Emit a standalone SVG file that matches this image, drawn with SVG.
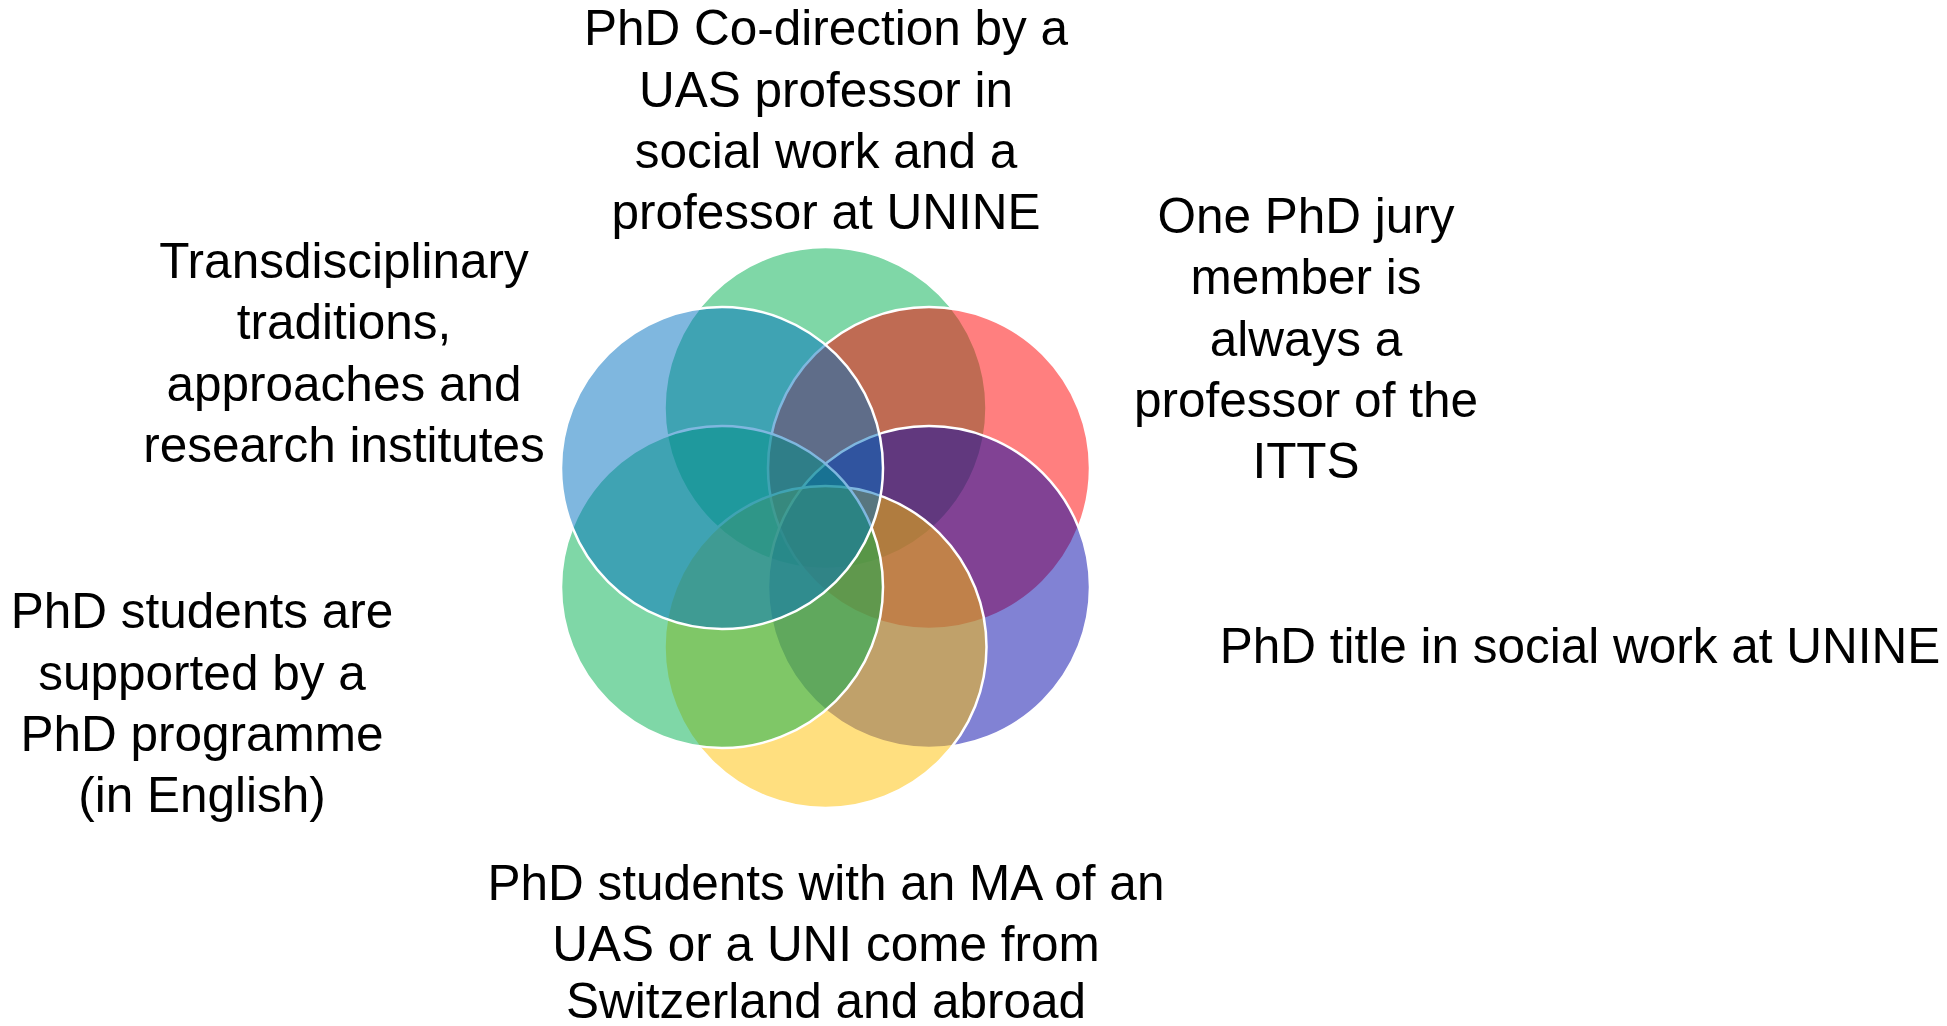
<svg xmlns="http://www.w3.org/2000/svg" width="1947" height="1026" viewBox="0 0 1947 1026">
<style>
.c{fill-opacity:0.5;stroke:#ffffff;stroke-width:2.5}
.t{font-family:"Liberation Sans",Arial,sans-serif;font-size:49.5px;fill:#000000;text-anchor:middle}
</style>
<rect width="1947" height="1026" fill="#ffffff"/>
<g id="circles">
<g id="c-top"><circle class="c" cx="825.5" cy="408" r="161" fill="#00B050"/></g>
<g id="c-upper-right"><circle class="c" cx="929" cy="468" r="161" fill="#FF0000"/></g>
<g id="c-lower-right"><circle class="c" cx="929" cy="587" r="161" fill="#0305AA"/></g>
<g id="c-bottom"><circle class="c" cx="825.5" cy="647" r="161" fill="#FFC000"/></g>
<g id="c-lower-left"><circle class="c" cx="722" cy="587" r="161" fill="#00B050"/></g>
<g id="c-upper-left"><circle class="c" cx="722" cy="468" r="161" fill="#0070C0"/></g>
</g>
<g id="label-top"><text class="t"><tspan x="826" y="45">PhD Co-direction by a</tspan><tspan x="826" y="107">UAS professor in</tspan><tspan x="826" y="168">social work and a</tspan><tspan x="826" y="229">professor at UNINE</tspan></text></g>
<g id="label-upper-right"><text class="t"><tspan x="1306" y="233">One PhD jury</tspan><tspan x="1306" y="294">member is</tspan><tspan x="1306" y="356">always a</tspan><tspan x="1306" y="417">professor of the</tspan><tspan x="1306" y="478">ITTS</tspan></text></g>
<g id="label-lower-right"><text class="t"><tspan x="1580" y="663">PhD title in social work at UNINE</tspan></text></g>
<g id="label-bottom"><text class="t"><tspan x="826" y="900">PhD students with an MA of an</tspan><tspan x="826" y="961">UAS or a UNI come from</tspan><tspan x="826" y="1018">Switzerland and abroad</tspan></text></g>
<g id="label-lower-left"><text class="t"><tspan x="202" y="628">PhD students are</tspan><tspan x="202" y="690">supported by a</tspan><tspan x="202" y="751">PhD programme</tspan><tspan x="202" y="812">(in English)</tspan></text></g>
<g id="label-upper-left"><text class="t"><tspan x="344" y="278">Transdisciplinary</tspan><tspan x="344" y="339">traditions,</tspan><tspan x="344" y="401">approaches and</tspan><tspan x="344" y="462">research institutes</tspan></text></g>
</svg>
